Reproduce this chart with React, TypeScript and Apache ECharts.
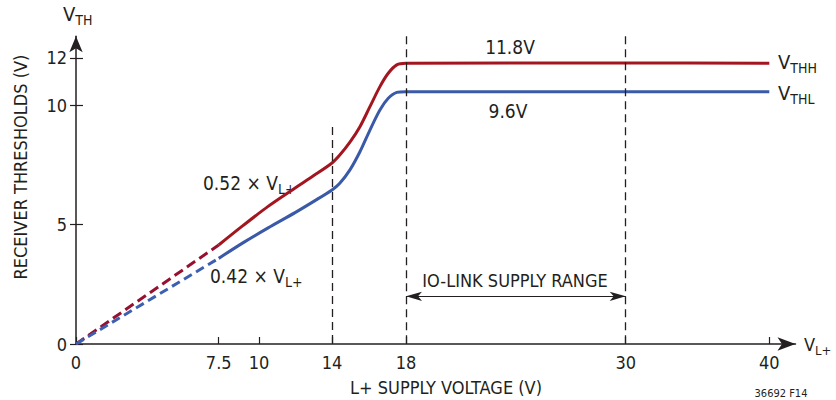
import React, { useEffect, useRef } from "react";
import * as echarts from "echarts";

// ---------- data ----------
const xTickValues = [0, 7.5, 10, 14, 18, 30, 40];
const yTickValues = [0, 5, 10, 12];

const vthhDashed: number[][] = [[0, 0], [7.5, 4.15]];
const vthhSolid: number[][] = [
  [7.5, 4.15], [9, 4.96], [10.5, 5.77], [12, 6.55], [13, 7.06], [14, 7.59],
  [14.42, 7.92], [14.97, 8.46], [15.51, 9.11], [16.05, 9.95], [16.59, 10.79],
  [17.04, 11.35], [17.5, 11.7], [17.98, 11.77], [30, 11.78], [40, 11.77],
];
const vthlDashed: number[][] = [[0, 0], [7.5, 3.59]];
const vthlSolid: number[][] = [
  [7.5, 3.59], [9, 4.24], [10.5, 4.87], [12, 5.52], [13, 5.98], [14, 6.46],
  [14.42, 6.74], [14.97, 7.3], [15.51, 8.06], [16.05, 8.97], [16.59, 9.81],
  [17.04, 10.3], [17.5, 10.55], [17.98, 10.58], [30, 10.58], [40, 10.58],
];
const markerVoltages = [14, 18, 30];
const markerTops = [9.1, 12.9, 12.9];
const supplyRange = [18, 30];
const supplyArrowLevel = 2;

// ---------- layout (axis scale: schematic, piecewise) ----------
const SCALE_D = [0, 142.7, 183, 256, 330, 549.7, 693.3];
const toD = (v: number) => {
  for (let i = 1; i < xTickValues.length; i++) {
    if (v <= xTickValues[i]) {
      const a = xTickValues[i - 1], b = xTickValues[i];
      return SCALE_D[i - 1] + ((v - a) / (b - a)) * (SCALE_D[i] - SCALE_D[i - 1]);
    }
  }
  return SCALE_D[SCALE_D.length - 1];
};
const FONT = '"Liberation Sans Narrow", "DejaVu Sans Condensed", "Roboto Condensed", sans-serif';
const INK = "#231f20";
const RED = "#a3161f";
const RED_D = "#97102f";
const BLUE = "#3a5aa8";
const BLUE_D = "#3d5fb0";

const mapPts = (pts: number[][]) => pts.map(([v, y]) => [toD(v), y]);

function txt(text: string, x: number, y: number, size: number, align = "left", extra: any = {}) {
  return {
    type: "text",
    x,
    y,
    silent: true,
    ...extra,
    style: { text, fontSize: size, fontFamily: FONT, fill: INK, align, verticalAlign: "middle" },
  };
}

function subTxt(main: string, sub: string, x: number, y: number, size = 19, subSize = 14) {
  return {
    type: "text",
    x,
    y,
    silent: true,
    style: {
      text: `{m|${main}}{s|${sub}}`,
      align: "left",
      verticalAlign: "middle",
      rich: {
        m: { fontSize: size, fontFamily: FONT, fill: INK, lineHeight: 26, verticalAlign: "middle" },
        s: { fontSize: subSize, fontFamily: FONT, fill: INK, lineHeight: 26, verticalAlign: "bottom" },
      },
    },
  };
}

export default function App() {
  const ref = useRef<HTMLDivElement>(null);
  useEffect(() => {
    const chart = echarts.init(ref.current!, null, { renderer: "svg" });
    const axisLineStyle = { color: INK, width: 1.5 };
    const tickD = xTickValues.map(toD);
    const option: any = {
      animation: false,
      backgroundColor: "#ffffff",
      grid: { left: 76, right: 40.5, top: 36.3, bottom: 56, containLabel: false },
      xAxis: {
        type: "value",
        min: 0,
        max: 719.5,
        axisLine: { show: true, symbol: ["none", "arrow"], symbolSize: [10, 18], lineStyle: axisLineStyle },
        axisTick: { show: true, inside: true, length: 7, customValues: tickD, lineStyle: { color: INK, width: 1.2 } },
        axisLabel: {
          customValues: tickD,
          margin: 9,
          fontSize: 18,
          fontFamily: FONT,
          color: INK,
          formatter: (val: number) => {
            const i = tickD.findIndex((d) => Math.abs(d - val) < 0.01);
            return i >= 0 ? String(xTickValues[i]) : "";
          },
        },
        splitLine: { show: false },
      },
      yAxis: [
        {
          type: "value",
          min: 0,
          max: 12.9,
          axisLine: { show: true, symbol: ["none", "arrow"], symbolSize: [10, 16], lineStyle: axisLineStyle },
          axisTick: { show: true, length: 6, customValues: yTickValues, lineStyle: { color: INK, width: 1.2 } },
          axisLabel: { customValues: yTickValues, margin: 9, fontSize: 18, fontFamily: FONT, color: INK },
          splitLine: { show: false },
        },
        {
          type: "value",
          min: 0,
          max: 12.9,
          position: "left",
          axisLine: { show: false },
          axisTick: { show: true, inside: true, length: 7, customValues: yTickValues, lineStyle: { color: INK, width: 1.2 } },
          axisLabel: { show: false },
          splitLine: { show: false },
        },
      ],
      series: [
        {
          type: "line",
          name: "VTHH dashed",
          data: mapPts(vthhDashed),
          symbol: "none",
          lineStyle: { color: RED_D, width: 3, type: [10, 5] },
          silent: true,
        },
        {
          type: "line",
          name: "VTHL dashed",
          data: mapPts(vthlDashed),
          symbol: "none",
          lineStyle: { color: BLUE_D, width: 3, type: [9, 5] },
          silent: true,
        },
        {
          type: "line",
          name: "VTHL",
          data: mapPts(vthlSolid),
          symbol: "none",
          smooth: 0.3,
          lineStyle: { color: BLUE, width: 3 },
          silent: true,
        },
        {
          type: "line",
          name: "VTHH",
          data: mapPts(vthhSolid),
          symbol: "none",
          smooth: 0.3,
          lineStyle: { color: RED, width: 3 },
          silent: true,
          markLine: {
            silent: true,
            symbol: ["none", "none"],
            label: { show: false },
            emphasis: { disabled: true },
            lineStyle: { color: INK, width: 1.3, type: [8, 5] },
            data: markerVoltages.map((v, i) => [
              { coord: [toD(v), markerTops[i]] },
              { coord: [toD(v), 0] },
            ]),
          },
        },
        {
          type: "line",
          name: "range",
          data: [],
          markLine: {
            silent: true,
            symbol: ["arrow", "arrow"],
            symbolSize: [7, 16],
            label: { show: false },
            emphasis: { disabled: true },
            lineStyle: { color: INK, width: 1.1, type: "solid" },
            data: [[
              { coord: [toD(supplyRange[0]), supplyArrowLevel] },
              { coord: [toD(supplyRange[1]), supplyArrowLevel] },
            ]],
          },
        },
      ],
      graphic: [
        subTxt("V", "TH", 63, 14, 20, 14),
        subTxt("V", "L+", 804, 344, 18, 13),
        subTxt("V", "THH", 778, 62, 20, 14),
        subTxt("V", "THL", 778, 93, 20, 14),
        txt("11.8V", 510, 47, 19, "center"),
        txt("9.6V", 508, 111, 19, "center"),
        subTxt("0.52 × V", "L+", 203, 183, 19, 14),
        subTxt("0.42 × V", "L+", 210, 276, 19, 14),
        txt("IO-LINK SUPPLY RANGE", 515, 280, 18, "center"),
        txt("L+ SUPPLY VOLTAGE (V)", 446, 387, 18, "center"),
        txt("RECEIVER THRESHOLDS (V)", 20, 167, 18, "center", { rotation: Math.PI / 2 }),
        txt("36692 F14", 781, 393, 11, "center"),
      ],
    };
    chart.setOption(option);
    return () => chart.dispose();
  }, []);
  return <div ref={ref} style={{ position: "absolute", left: 0, top: 0, width: 836, height: 400 }} />;
}
